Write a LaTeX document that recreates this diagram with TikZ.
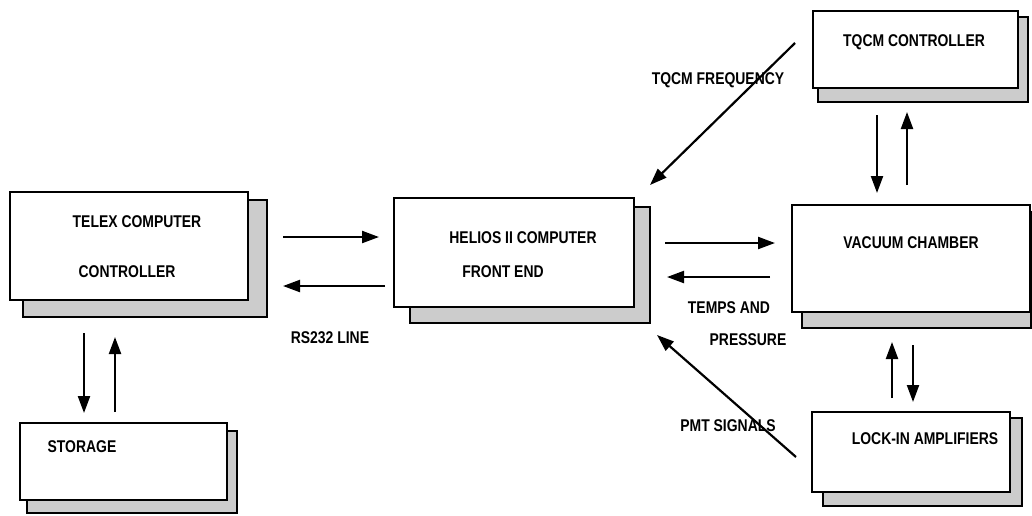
\documentclass[tikz,border=0pt]{standalone}
\usepackage{fontspec}
\setmainfont{Liberation Sans}[FakeStretch=0.82]
\usetikzlibrary{arrows.meta,patterns}
\begin{document}
\begin{tikzpicture}[x=1pt,y=-1pt,
  box/.style={draw=black,line width=2.2pt,fill=white,inner sep=0pt},
  shadowbox/.style={draw=black,line width=2.2pt,fill=gray!40,inner sep=0pt},
  lbl/.style={font=\fontsize{17}{19}\selectfont\bfseries,inner sep=0pt,text=black},
  conn/.style={line width=2.2pt,-{Triangle[length=17pt,width=12pt]}}]
\useasboundingbox (0,0) rectangle (1032,515);
% shadows
\node[shadowbox,minimum width=244pt,minimum height=117pt] (telexsh) at (145,258.5) {};
\node[shadowbox,minimum width=240pt,minimum height=116pt] (heliossh) at (530,265) {};
\node[shadowbox,minimum width=210pt,minimum height=85pt] (tqcmsh) at (923,59.5) {};
\node[shadowbox,minimum width=229pt,minimum height=116pt] (vacsh) at (916.5,270) {};
\node[shadowbox,minimum width=210pt,minimum height=82pt] (storsh) at (132,472) {};
\node[shadowbox,minimum width=199pt,minimum height=88pt] (locksh) at (922.5,462) {};
% boxes
\node[box,minimum width=238pt,minimum height=108pt] (telex) at (129,246) {};
\node[box,minimum width=240pt,minimum height=109pt] (helios) at (514,252.5) {};
\node[box,minimum width=205pt,minimum height=77pt] (tqcm) at (915.5,49.5) {};
\node[box,minimum width=238pt,minimum height=107pt] (vac) at (911,258.5) {};
\node[box,minimum width=207pt,minimum height=77pt] (stor) at (123.5,461.5) {};
\node[box,minimum width=198pt,minimum height=80pt] (lock) at (911,452) {};
% texts
\node[lbl] (t1) at (137,222) {TELEX COMPUTER};
\node[lbl] (t2) at (127,272) {CONTROLLER};
\node[lbl] (t3) at (523,238) {HELIOS II COMPUTER};
\node[lbl] (t4) at (503,272) {FRONT END};
\node[lbl] (t5) at (914,42) {TQCM CONTROLLER};
\node[lbl] (t6) at (911,243) {VACUUM CHAMBER};
\node[lbl] (t7) at (82,447) {STORAGE};
\node[lbl] (t8) at (925,439) {LOCK-IN AMPLIFIERS};
\node[lbl] (t9) at (718,80) {TQCM FREQUENCY};
\node[lbl] (t10) at (729,308) {TEMPS AND};
\node[lbl] (t11) at (748,340) {PRESSURE};
\node[lbl] (t12) at (330,338) {RS232 LINE};
\node[lbl] (t13) at (728,426) {PMT SIGNALS};
% connector end points
\coordinate (a1s) at (283,237); \coordinate (a1e) at (379,237);
\coordinate (a2s) at (385,286); \coordinate (a2e) at (283,286);
\coordinate (a3s) at (665,243); \coordinate (a3e) at (775,243);
\coordinate (a4s) at (770,277); \coordinate (a4e) at (667,277);
\coordinate (a5s) at (795,43);  \coordinate (a5e) at (650,185);
\coordinate (a6s) at (796,457); \coordinate (a6e) at (657,335);
\coordinate (a7s) at (877,115); \coordinate (a7e) at (877,193);
\coordinate (a8s) at (907,185); \coordinate (a8e) at (907,112);
\coordinate (a9s) at (892,398); \coordinate (a9e) at (892,342);
\coordinate (a10s) at (913,345); \coordinate (a10e) at (913,402);
\coordinate (a11s) at (84,333); \coordinate (a11e) at (84,413);
\coordinate (a12s) at (115,412); \coordinate (a12e) at (115,337);
\foreach \i in {1,...,12} {\draw[conn] (a\i s) -- (a\i e);}
\end{tikzpicture}
\end{document}
